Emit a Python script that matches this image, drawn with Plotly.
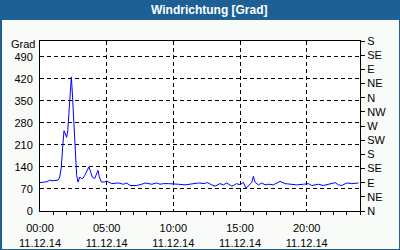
import plotly.graph_objects as go

# --- data ---
times = ["00:00", "00:22", "00:31", "00:44", "00:54", "01:07", "01:21", "01:29", "01:36", "01:42",
         "01:48", "01:54", "02:00", "02:05", "02:10", "02:16", "02:21", "02:25", "02:30", "02:34",
         "02:39", "02:45", "02:51", "02:59", "03:06", "03:13", "03:21", "03:33", "03:40", "03:48",
         "03:55", "04:06", "04:15", "04:21", "04:27", "04:36", "04:51", "05:00", "05:23", "05:52",
         "06:15", "06:30", "06:45", "07:15", "07:38", "07:53", "08:23", "08:45", "09:00", "09:15",
         "09:38", "10:00", "10:22", "10:53", "11:23", "11:53", "12:23", "12:30", "12:53", "13:08",
         "13:30", "13:45", "14:00", "14:23", "14:30", "14:45", "15:00", "15:15", "15:27", "15:38",
         "15:53", "16:00", "16:08", "16:23", "16:38", "16:53", "17:08", "17:30", "18:00", "18:23",
         "18:45", "19:15", "19:45", "20:08", "20:23", "20:53", "21:15", "21:45", "22:08", "22:23",
         "22:38", "23:00", "23:23", "23:53"]
values = [90, 91, 93, 98, 96, 97, 98, 108, 140, 203,
          255, 245, 234, 255, 308, 381, 426, 381, 308, 234,
          166, 113, 92, 108, 103, 103, 113, 129, 140, 124,
          108, 103, 119, 129, 108, 92, 92, 95, 87, 89,
          85, 89, 81, 81, 85, 89, 85, 89, 85, 87,
          87, 85, 85, 83, 85, 89, 87, 91, 83, 79,
          87, 83, 89, 79, 81, 87, 83, 91, 72, 81,
          91, 110, 91, 83, 89, 83, 85, 83, 94, 87,
          85, 83, 85, 87, 81, 85, 81, 85, 90, 83,
          81, 89, 87, 89]
day = "2014-12-11"
left_ticks = [0, 70, 140, 210, 280, 350, 420, 490]
right_ticks = [0, 45, 90, 135, 180, 225, 270, 315, 360, 405, 450, 495, 540]
right_labels = ["N", "NE", "E", "SE", "S", "SW", "W", "NW", "N", "NE", "E", "SE", "S"]
title_text = "Windrichtung [Grad]"
unit_text = "Grad"

x = [f"{day} {t}" for t in times]

FONT = "Liberation Sans"
BLUE = "#1e5f95"
W, H = 400, 250
L, R, T, B = 40, 40, 41, 39
pw, ph = W - L - R, H - T - B


def px(xp):
    return (xp - L) / pw


def py(yp):
    return (H - B - yp) / ph


fig = go.Figure()
fig.add_trace(go.Scatter(x=x, y=values, mode="lines",
                         line=dict(color="#0000ff", width=1), showlegend=False))
# invisible trace to activate right axis
fig.add_trace(go.Scatter(x=[x[0]], y=[0], yaxis="y2", mode="markers",
                         marker=dict(opacity=0), showlegend=False, hoverinfo="skip"))

grid_dash = "4px,3px"
fig.update_layout(
    width=W, height=H,
    margin=dict(l=L, r=R, t=T, b=B),
    paper_bgcolor="#f9fbf9",
    plot_bgcolor="#ffffff",
    font=dict(family=FONT, size=11, color="#000000"),
    xaxis=dict(
        type="date", automargin=False,
        range=[f"{day} 00:00", "2014-12-12 00:00"],
        tick0=f"{day} 00:00", dtick=5 * 3600000,
        tickformat="%H:%M<br>%d.%m.%y",
        showgrid=True, gridcolor="#000000", gridwidth=1, griddash=grid_dash,
        showline=True, linecolor="#000000", linewidth=1, mirror=True,
        ticks="", ticklen=0, ticklabelstandoff=7,
        minor=dict(dtick=3600000, tick0=f"{day} 00:00", ticks="outside", ticklen=3,
                   tickcolor="#000000", showgrid=False),
        tickfont=dict(family=FONT, size=11),
        zeroline=False,
    ),
    yaxis=dict(
        range=[0, 540], automargin=False,
        tickvals=left_ticks,
        showgrid=True, gridcolor="#000000", gridwidth=1, griddash=grid_dash,
        showline=True, linecolor="#000000", linewidth=1, mirror=True,
        ticks="", ticklabelstandoff=4,
        zeroline=False,
        tickfont=dict(family=FONT, size=11),
    ),
    yaxis2=dict(
        range=[0, 540], overlaying="y", side="right", automargin=False,
        tickvals=right_ticks, ticktext=right_labels,
        showgrid=False, zeroline=False,
        showline=True, linecolor="#000000", linewidth=1,
        ticks="outside", ticklen=4, tickcolor="#000000",
        tickfont=dict(family=FONT, size=11),
    ),
    shapes=[
        # title bar
        dict(type="rect", xref="paper", yref="paper", x0=px(0), x1=px(W), y0=py(20), y1=py(0),
             fillcolor=BLUE, line=dict(width=0), layer="below"),
        # border strips
        dict(type="rect", xref="paper", yref="paper", x0=px(0), x1=px(2), y0=py(H), y1=py(0),
             fillcolor=BLUE, line=dict(width=0)),
        dict(type="rect", xref="paper", yref="paper", x0=px(W - 1), x1=px(W), y0=py(H), y1=py(0),
             fillcolor=BLUE, line=dict(width=0)),
        dict(type="rect", xref="paper", yref="paper", x0=px(0), x1=px(W), y0=py(H), y1=py(H - 1),
             fillcolor=BLUE, line=dict(width=0)),
    ],
    annotations=[
        dict(text=f"<b>{title_text}</b>", xref="paper", yref="paper", x=px(209), y=py(10),
             xanchor="center", yanchor="middle", showarrow=False,
             font=dict(family=FONT, size=12, color="#ffffff")),
        dict(text=unit_text, xref="paper", yref="paper", x=px(37), y=py(44),
             xanchor="right", yanchor="middle", showarrow=False,
             font=dict(family=FONT, size=11, color="#000000")),
    ],
)

fig.write_html("out.html")
